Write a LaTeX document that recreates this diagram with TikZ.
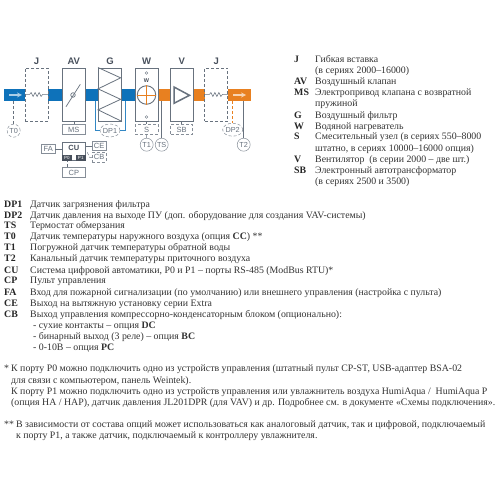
\documentclass[tikz,border=0pt]{standalone}
\usepackage{fontspec}
\setmainfont{Liberation Serif}
\newfontfamily\labelfont{Liberation Sans}
\usepackage{xcolor}
\usetikzlibrary{positioning, shapes.geometric}
\definecolor{duct}{RGB}{14,114,186}
\definecolor{warm}{RGB}{232,128,32}
\definecolor{steel}{RGB}{104,114,126}
\definecolor{dark}{RGB}{72,80,92}
\tikzset{
    unit/.style={rectangle, draw=steel, line width=0.9pt, fill=white, minimum width=23pt, minimum height=53pt, inner sep=0pt},
    insert/.style={rectangle, draw=steel, densely dashed, line width=0.8pt, fill=white, minimum width=23pt, minimum height=53pt, inner sep=0pt},
    head/.style={text=dark, font=\labelfont\bfseries\fontsize{9.5}{10}\selectfont, inner sep=0pt},
    tag/.style={rectangle, draw=steel!80, line width=0.5pt, fill=white, text=steel, font=\labelfont\fontsize{7.5}{8}\selectfont, inner sep=0pt},
    dtag/.style={tag, densely dashed},
    sensor/.style={circle, draw=steel!80, line width=0.5pt, fill=white, text=steel, font=\labelfont\fontsize{7.3}{8}\selectfont, minimum size=13pt, inner sep=0pt},
    dsensor/.style={ellipse, draw=steel!80, densely dashed, line width=0.5pt, fill=white, text=steel, font=\labelfont\fontsize{7.3}{8}\selectfont, minimum width=19pt, minimum height=13pt, inner sep=0pt},
    port/.style={rectangle, fill=dark, text=white, font=\labelfont\fontsize{4.5}{5}\selectfont, minimum width=9.5pt, minimum height=6.4pt, inner sep=0pt},
    wire/.style={draw=steel, line width=0.5pt},
    term/.style={anchor=base west, inner sep=0pt, text=black!85, font=\bfseries\fontsize{9.85}{11}\selectfont},
    descr/.style={anchor=base west, inner sep=0pt, text=black!80, font=\fontsize{9.85}{11}\selectfont},
    note/.style={anchor=base west, inner sep=0pt, text=black!80, font=\fontsize{9.85}{11}\selectfont}
}
\begin{document}
\begin{tikzpicture}[x=1pt, y=-1pt]
    \useasboundingbox (0,0) rectangle (500,500);

    % Air duct
    \fill[duct] (4.3,89.3) rectangle (146,101);
    \fill[warm] (146,89.3) rectangle (250.7,101);
    \draw[draw=duct!35, line width=1.2pt, -stealth] (9,95) -- (22,95);
    \draw[draw=warm!35, line width=1.2pt, -stealth] (233,95) -- (246,95);

    % Filter pressure loop
    \node[dsensor] (dp1) at (110,130.5) {DP1};
    \coordinate (dpa) at (95,101);
    \coordinate (dpb) at (125,101);
    \draw[draw=duct!85, line width=0.9pt] (dpa) |- (dp1);
    \draw[draw=duct!85, line width=0.9pt] (dpb) |- (dp1);

    % Units along the duct
    \node[insert] (j1) at (36.5,94.5) {};
    \node[unit] (av) at (73.8,94.5) {};
    \node[unit] (g) at (110,94.5) {};
    \node[unit] (w) at (146.5,94.5) {};
    \node[unit] (v) at (181.7,94.5) {};
    \node[insert] (j2) at (216.3,94.5) {};

    \node[head, above=3pt of j1] (hj1) {J};
    \node[head, above=3pt of av] (hav) {AV};
    \node[head, above=3pt of g] (hg) {G};
    \node[head, above=3pt of w] (hw) {W};
    \node[head, above=3pt of v] (hv) {V};
    \node[head, above=3pt of j2] (hj2) {J};

    % Flexible inserts
    \draw[wire] (j1.west) -- ++(5,0) -- ++(1.5,-2) -- ++(2,4) -- ++(2,-4) -- ++(2,4) -- ++(2,-4) -- ++(2,4) -- ++(1.5,-2) -- (j1.east);
    \draw[wire] (j2.west) -- ++(5,0) -- ++(1.5,-2) -- ++(2,4) -- ++(2,-4) -- ++(2,4) -- ++(2,-4) -- ++(2,4) -- ++(1.5,-2) -- (j2.east);

    % Damper
    \node[circle, draw=steel, line width=0.7pt, minimum size=4.5pt, inner sep=0pt] (hub) at (73,95) {};
    \coordinate (bladea) at (66,106.7);
    \coordinate (bladeb) at (80.3,84.3);
    \draw[draw=steel, line width=0.7pt] (bladea) -- (bladeb);

    % Filter pleats
    \draw[draw=steel, line width=0.8pt] (g.north west) -- ++(22.6,10.3) -- ++(-22.6,11) -- ++(22.6,10.5) -- ++(-22.6,10.5) -- (g.south east);

    % Heater
    \node[circle, draw=steel, line width=0.9pt, fill=white, minimum size=18.5pt, inner sep=0pt] (coil) at (146.5,95) {};
    \draw[draw=warm, line width=0.9pt] (coil.west) -- (coil.east);
    \draw[draw=warm, line width=0.9pt] (coil.north) -- (coil.south);
    \node[circle, draw=steel, line width=0.4pt, minimum size=2.6pt, inner sep=0pt] (portin) at (146.5,73) {};
    \node[circle, draw=steel, line width=0.4pt, minimum size=2.6pt, inner sep=0pt] (portout) at (146.5,117) {};
    \node[text=dark, font=\labelfont\bfseries\fontsize{5.5}{6}\selectfont, inner sep=0pt] (wmark) at (146.5,80.5) {W};

    % Fan
    \draw[draw=steel, line width=1.5pt, line join=miter] (174,87) -- (189.5,95.3) -- (174,103.3) -- cycle;

    % Boxes under the units
    \node[tag, minimum width=23pt, minimum height=9.6pt] (ms) at (73.8,129.5) {MS};
    \node[dtag, minimum width=23pt, minimum height=9.6pt] (s) at (146.5,129.5) {S};
    \node[dtag, minimum width=22pt, minimum height=9.6pt] (sb) at (181.7,129.5) {SB};
    \draw[wire] (av) -- (ms);
    \draw[wire] (w) -- (s);
    \draw[wire] (v) -- (sb);

    % Sensors
    \node[dsensor, minimum width=13pt] (t0) at (13.7,130.7) {T0};
    \node[sensor] (t1) at (146.7,144.7) {T1};
    \node[sensor] (ts) at (161.7,144.7) {TS};
    \node[sensor] (t2) at (243.7,144.7) {T2};
    \node[dsensor] (dp2) at (232.7,129.7) {DP2};
    \coordinate (t0in) at (13.7,101);
    \coordinate (tsin) at (161.7,101);
    \coordinate (t2in) at (243.7,101);
    \coordinate (dp2in) at (232.7,101);
    \draw[wire, densely dashed] (t0in) -- (t0);
    \draw[wire] (s) -- (t1);
    \draw[wire] (tsin) -- (ts);
    \draw[wire] (t2in) -- (t2);
    \draw[draw=warm, densely dashed, line width=0.5pt] (dp2in) -- (dp2);

    % Automation
    \node[rectangle, draw=steel, line width=0.8pt, fill=white, minimum width=23pt, minimum height=18.4pt, inner sep=0pt] (cu) at (73.8,151.5) {};
    \node[text=dark, font=\labelfont\bfseries\fontsize{7.5}{8}\selectfont, inner sep=0pt] (culabel) at (73.8,147.5) {CU};
    \node[port, anchor=south west] (p0) at (cu.south west) {P0};
    \node[port, anchor=south east] (p1) at (cu.south east) {P1};
    \node[tag, minimum width=13.3pt, minimum height=8.6pt] (fa) at (48.3,149) {FA};
    \node[tag, minimum width=13.7pt, minimum height=8.6pt] (ce) at (99.2,146) {CE};
    \node[dtag, minimum width=13.7pt, minimum height=10pt] (cb) at (99.2,157.3) {CB};
    \node[tag, minimum width=23pt, minimum height=10.4pt] (cp) at (73.8,172.5) {CP};
    \coordinate (cuout) at (85.3,152);
    \coordinate (cpin) at (67,167.3);
    \draw[wire] (fa) -- (fa -| cu.west);
    \draw[wire] (ce) -- (ce -| cu.east);
    \draw[wire, densely dashed] (cb.west) -- ++(-2.5,0) -- ++(-2.5,-5.3) -- (cuout);
    \draw[wire, densely dashed] (cpin) -- (cpin |- p0.south);

    % Legend on the right
    \foreach \n/\y/\key/\txt in {
        a/62.7/J/{Гибкая вставка},
        b/73.7//{(в сериях 2000–16000)},
        c/84.7/AV/{Воздушный клапан},
        d/95.7/MS/{Электропривод клапана с возвратной},
        e/106.7//{пружиной},
        f/118/G/{Воздушный фильтр},
        g/129/W/{Водяной нагреватель},
        h/139.8/S/{Смесительный узел (в сериях 550–8000},
        i/151//{штатно, в сериях 10000–16000 опция)},
        j/162.3/V/{Вентилятор~ (в серии 2000 – две шт.)},
        k/173.3/SB/{Электронный автотрансформатор},
        l/184.3//{(в сериях 2500 и 3500)}} {
        \node[term] (key\n) at (294,\y) {\key};
        \node[descr] (txt\n) at (315,\y) {\txt};
    }

    % Legend below the scheme
    \foreach \n/\y/\key/\txt in {
        a/207/DP1/{Датчик загрязнения фильтра},
        b/218/DP2/{Датчик давления на выходе ПУ (доп. оборудование для создания VAV-системы)},
        c/228.7/TS/{Термостат обмерзания},
        d/239.7/T0/{Датчик температуры наружного воздуха (опция \textbf{CC}) **},
        e/250.7/T1/{Погружной датчик температуры обратной воды},
        f/261.7/T2/{Канальный датчик температуры приточного воздуха},
        g/273/CU/{Система цифровой автоматики, P0 и P1 – порты RS-485 (ModBus RTU)*},
        h/283.7/CP/{Пульт управления},
        i/295/FA/{Вход для пожарной сигнализации (по умолчанию) или внешнего управления (настройка с пульта)},
        j/306.3/CE/{Выход на вытяжную установку серии Extra},
        k/317/CB/{Выход управления компрессорно-конденсаторным блоком (опционально):}} {
        \node[term] (lkey\n) at (4,\y) {\key};
        \node[descr] (ltxt\n) at (30,\y) {\txt};
    }
    \node[note] (dc) at (33,328.3) {- сухие контакты – опция \textbf{DC}};
    \node[note] (bc) at (33,339.7) {- бинарный выход (3 реле) – опция \textbf{BC}};
    \node[note] (pc) at (33,350.3) {- 0-10В – опция \textbf{PC}};

    % Footnotes
    \node[note] (stara) at (4,371.3) {*};
    \node[note] (nota) at (11,371.3) {К порту P0 можно подключить одно из устройств управления (штатный пульт CP-ST, USB-адаптер BSA-02};
    \node[note] (notb) at (11,383) {для связи с компьютером, панель Weintek).};
    \node[note] (notc) at (11,394) {К порту P1 можно подключить одно из устройств управления или увлажнитель воздуха HumiAqua /~ HumiAqua P};
    \node[note] (notd) at (11,405.7) {(опция HA / HAP), датчик давления JL201DPR (для VAV) и др. Подробнее см. в документе «Схемы подключения».};
    \node[note] (starb) at (4,427.3) {**};
    \node[note] (note) at (16,427.3) {В зависимости от состава опций может использоваться как аналоговый датчик, так и цифровой, подключаемый};
    \node[note] (notf) at (16,438.7) {к порту P1, а также датчик, подключаемый к контроллеру увлажнителя.};
\end{tikzpicture}
\end{document}
